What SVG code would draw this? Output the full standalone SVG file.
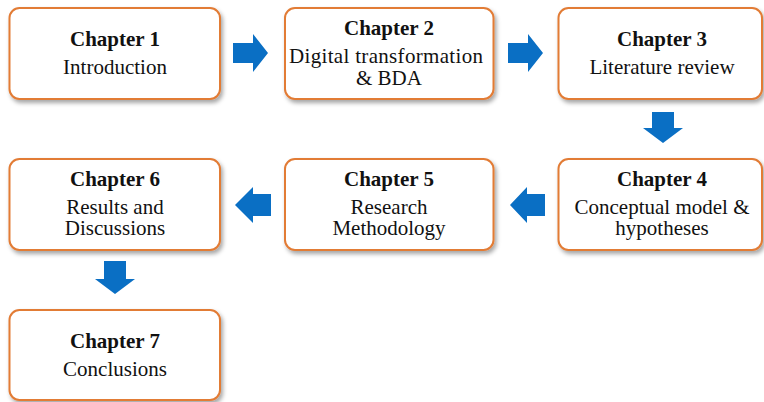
<svg xmlns="http://www.w3.org/2000/svg" width="764" height="402" viewBox="0 0 764 402">
  <defs>
    <filter id="shadow" x="-10%" y="-10%" width="125%" height="130%">
      <feDropShadow dx="2" dy="3" stdDeviation="2" flood-color="#000" flood-opacity="0.35"/>
    </filter>
  </defs>
  <style>
    .box { fill: #ffffff; stroke: #E27B35; stroke-width: 2; filter: url(#shadow); }
    text { font-family: "Liberation Serif", "Times New Roman", serif; fill: #111; text-anchor: middle; }
    .title { font-size: 21px; font-weight: bold; }
    .body { font-size: 21px; }
    .arrow { fill: #0A6FC4; }
  </style>
  <rect width="764" height="402" fill="#ffffff"/>

  <g id="chapter1">
    <rect class="box" x="9.5" y="8" width="210.5" height="91" rx="10"/>
    <text class="title" x="115" y="46">Chapter 1</text>
    <text class="body" x="115" y="74">Introduction</text>
  </g>
  <g id="chapter2">
    <rect class="box" x="285" y="8" width="208.5" height="91" rx="10"/>
    <text class="title" x="389" y="35">Chapter 2</text>
    <text class="body" x="386" y="63" textLength="194">Digital transformation</text>
    <text class="body" x="389" y="85">&amp; BDA</text>
  </g>
  <g id="chapter3">
    <rect class="box" x="558.5" y="8" width="203.5" height="91" rx="10"/>
    <text class="title" x="662" y="46">Chapter 3</text>
    <text class="body" x="662" y="74">Literature review</text>
  </g>
  <g id="chapter4">
    <rect class="box" x="558.5" y="159" width="203.5" height="91" rx="10"/>
    <text class="title" x="662" y="186">Chapter 4</text>
    <text class="body" x="662" y="214">Conceptual model &amp;</text>
    <text class="body" x="662" y="235">hypotheses</text>
  </g>
  <g id="chapter5">
    <rect class="box" x="285" y="159" width="208.5" height="91" rx="10"/>
    <text class="title" x="389" y="186">Chapter 5</text>
    <text class="body" x="389" y="214">Research</text>
    <text class="body" x="389" y="235">Methodology</text>
  </g>
  <g id="chapter6">
    <rect class="box" x="9.5" y="159" width="210.5" height="91" rx="10"/>
    <text class="title" x="115" y="186">Chapter 6</text>
    <text class="body" x="115" y="214">Results and</text>
    <text class="body" x="115" y="235">Discussions</text>
  </g>
  <g id="chapter7">
    <rect class="box" x="9.5" y="310" width="210.5" height="90" rx="10"/>
    <text class="title" x="115" y="348">Chapter 7</text>
    <text class="body" x="115" y="376">Conclusions</text>
  </g>

  <g id="connectors">
    <!-- right: 1 -> 2 -->
    <polygon class="arrow" points="233,43 253,43 253,34 268,53 253,72 253,63 233,63"/>
    <!-- right: 2 -> 3 -->
    <polygon class="arrow" points="508,43 528,43 528,34 543,53 528,72 528,63 508,63"/>
    <!-- down: 3 -> 4 -->
    <polygon class="arrow" points="652,112 674,112 674,128 683,128 663,143 643,128 652,128"/>
    <!-- left: 4 -> 5 -->
    <polygon class="arrow" points="545,194 527,194 527,187 510,205 527,223 527,216 545,216"/>
    <!-- left: 5 -> 6 -->
    <polygon class="arrow" points="271,194 253,194 253,187 235,205 253,223 253,216 271,216"/>
    <!-- down: 6 -> 7 -->
    <polygon class="arrow" points="104,261 126,261 126,279 135,279 115,294 95,279 104,279"/>
  </g>
</svg>
